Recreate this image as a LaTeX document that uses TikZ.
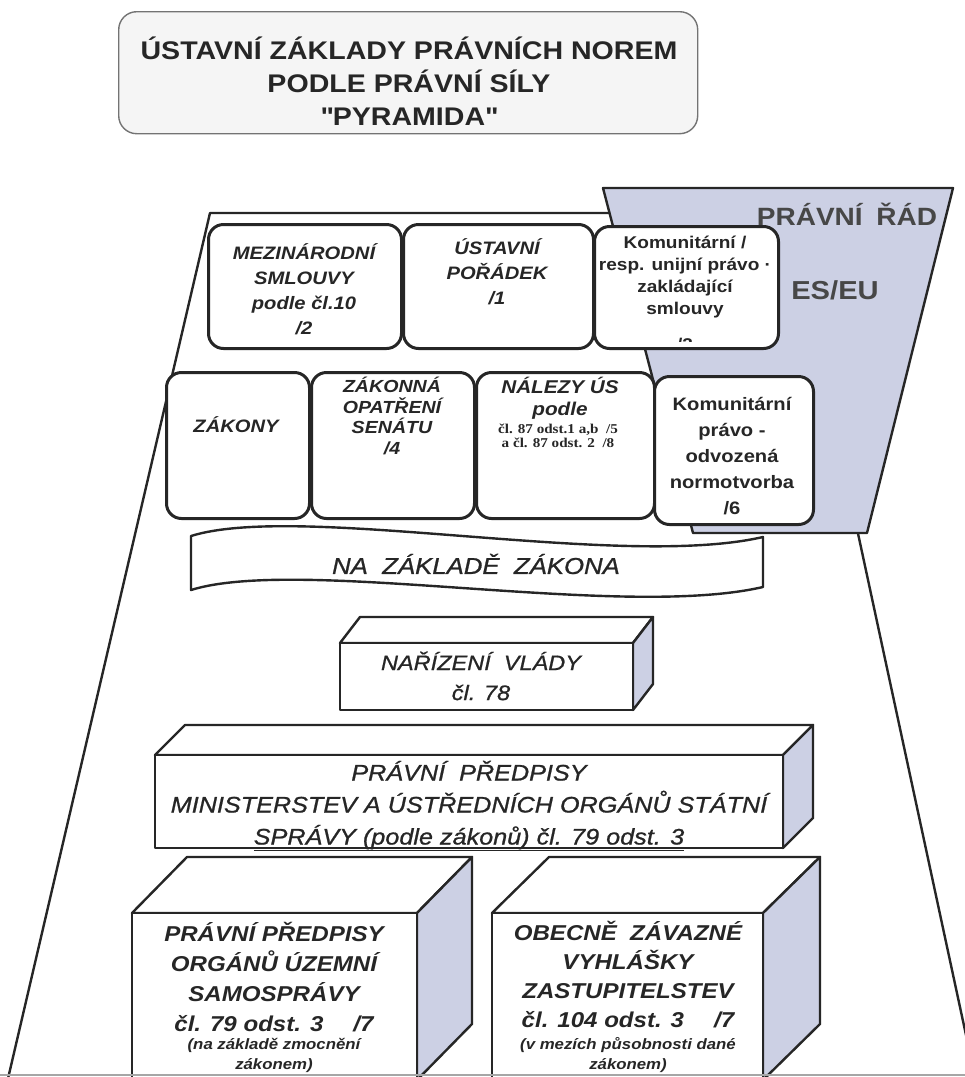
\documentclass[tikz,border=0pt]{standalone}
\usepackage{fontspec}
\setmainfont{Liberation Sans}[FakeStretch=1.12]
\newfontfamily\serifx{Liberation Serif}[FakeStretch=1.12]
\newfontfamily\medfont{Liberation Sans}[FakeStretch=1.12, FakeBold=0.9]
\newcommand\dq{\XeTeXglyph\XeTeXcharglyph"22\relax}
\definecolor{eublue}{RGB}{204,208,228}
\definecolor{ink}{RGB}{38,38,38}
\newcommand\fsz[2]{\fontsize{#1}{#2}\selectfont}
\tikzset{
  pline/.style={draw=ink, line width=2.4pt, line join=round},
  rbox/.style={rectangle, draw=ink, line width=3pt, fill=white, rounded corners=15pt, inner sep=0pt, anchor=north west},
  txt/.style={text=ink, align=center, inner sep=0pt},
}
\newcommand\cuboid[6]{%
  \draw[pline, fill=white] (#1,#2) -- (#1+#5,#2-#6) -- (#3+#5,#2-#6) -- (#3,#2) -- cycle;
  \draw[pline, fill=eublue] (#3,#2) -- (#3+#5,#2-#6) -- (#3+#5,#4-#6) -- (#3,#4) -- cycle;
  \draw[pline, fill=white] (#1,#2) rectangle (#3,#4);
}
\begin{document}
\begin{tikzpicture}[x=1pt,y=-1pt]
\useasboundingbox (0,0) rectangle (965,1077);
% title
\node[draw=black!55, line width=1.4pt, fill=black!4, rounded corners=18pt, minimum width=579pt, minimum height=122pt, anchor=north west, inner sep=0pt] (titlebox) at (118,11) {};
\node[txt, font=\fsz{25.5}{33}\bfseries] (title) at (409,81) {ÚSTAVNÍ ZÁKLADY PRÁVNÍCH NOREM\\PODLE PRÁVNÍ SÍLY\\\dq PYRAMIDA\dq};
% pyramid
\draw[pline, fill=white] (210,213) -- (789,213) -- (980,1100) -- (3,1100) -- cycle;
% EU funnel
\draw[pline, fill=eublue] (603,188) -- (953,188) -- (867,533) -- (693,533) -- cycle;
\node[txt, font=\fsz{25}{25}\bfseries, text=black!72] (pravnirad) at (847,214) {PRÁVNÍ\hspace{0.55em}ŘÁD};
\node[txt, font=\fsz{26}{26}\bfseries, text=black!72] (eseu) at (835,290) {ES/EU};
% row 1
\node[rbox, minimum width=193pt, minimum height=124pt] (mez) at (207,223) {};
\node[rbox, minimum width=190pt, minimum height=124pt] (ust) at (402,223) {};
\node[rbox, minimum width=184pt, minimum height=122pt] (kom1) at (593,225) {};
\node[txt, font=\fsz{18}{25}\bfseries\itshape] (mezT) at (304,289) {MEZINÁRODNÍ\\SMLOUVY\\podle čl.10\\/2};
\node[txt, font=\fsz{18}{25}\bfseries\itshape] (ustT) at (497,272) {ÚSTAVNÍ\\POŘÁDEK\\/1};
\node[txt, font=\fsz{17}{22}\bfseries] (kom1T) at (685,277) {Komunitární /\\resp. unijní právo ·\\zakládající\\smlouvy};
\begin{scope}
\clip (595,300) rectangle (775,341);
\node[txt, font=\fsz{17}{22}\bfseries] (kom1N) at (685,345) {/3};
\end{scope}
% row 2
\node[rbox, minimum width=143pt, minimum height=146pt] (zak) at (165,371) {};
\node[rbox, minimum width=163pt, minimum height=146pt] (opat) at (310,371) {};
\node[rbox, minimum width=178pt, minimum height=146pt] (nal) at (475,371) {};
\node[rbox, minimum width=159pt, minimum height=148pt] (kom2) at (653,375) {};
\node[txt, font=\fsz{18}{20}\bfseries\itshape] (zakT) at (236,425) {ZÁKONY};
\node[txt, font=\fsz{17.5}{20.5}\bfseries\itshape] (opatT) at (392,416) {ZÁKONNÁ\\OPATŘENÍ\\SENÁTU\\/4};
\node[txt, font=\fsz{18.5}{22}\bfseries\itshape] (nalA) at (560,398) {NÁLEZY ÚS\\podle};
\node[txt, font=\serifx\fsz{13.5}{14.5}\bfseries] (nalB) at (558,436) {čl. 87 odst.1 a,b\ \ /5\\a čl. 87 odst. 2\ \ /8};
\node[txt, font=\fsz{18}{26}\bfseries] (kom2T) at (732,456) {Komunitární\\právo -\\odvozená\\normotvorba\\/6};
% banner
\draw[pline, fill=white] (191,536) .. controls (300,502) and (620,570) .. (763,537) -- (763,587) .. controls (620,620) and (300,556) .. (191,590) -- cycle;
\node[txt, font=\medfont\fsz{23}{23}\itshape] (nazT) at (476,564) {NA\ \ ZÁKLADĚ\ \ ZÁKONA};
% narizeni vlady
\cuboid{340}{643}{633}{710}{20}{26}
\node[txt, font=\medfont\fsz{21}{30}\itshape] (nvT) at (481,676) {NAŘÍZENÍ\ \ VLÁDY\\čl. 78};
% ministerstva
\cuboid{155}{755}{783}{848}{30}{30}
\node[txt, font=\medfont\fsz{22.5}{32}\itshape] (mpT) at (469,806) {PRÁVNÍ\ \ PŘEDPISY\\MINISTERSTEV A ÚSTŘEDNÍCH ORGÁNŮ STÁTNÍ\\\underline{SPRÁVY (podle zákonů) čl. 79 odst. 3}};
% samosprava
\cuboid{132}{913}{417}{1080}{55}{56}
\node[txt, font=\fsz{21.5}{30}\bfseries\itshape] (ltA) at (274,977) {PRÁVNÍ PŘEDPISY\\ORGÁNŮ ÚZEMNÍ\\SAMOSPRÁVY\\čl. 79 odst. 3\hspace{1.4em}/7};
\node[txt, font=\fsz{15}{20}\bfseries\itshape] (ltB) at (274,1055) {(na základě zmocnění\\zákonem)};
% zastupitelstva
\cuboid{492}{913}{763}{1080}{57}{56}
\node[txt, font=\fsz{21.5}{29}\bfseries\itshape] (rtA) at (628,975) {OBECNĚ\ \ ZÁVAZNÉ\\VYHLÁŠKY\\ZASTUPITELSTEV\\čl. 104 odst. 3\hspace{1.4em}/7};
\node[txt, font=\fsz{15}{20}\bfseries\itshape] (rtB) at (628,1055) {(v mezích působnosti dané\\zákonem)};
% bottom edge
\draw[black!35, line width=2pt] (0,1075) -- (965,1075);
\end{tikzpicture}
\end{document}
